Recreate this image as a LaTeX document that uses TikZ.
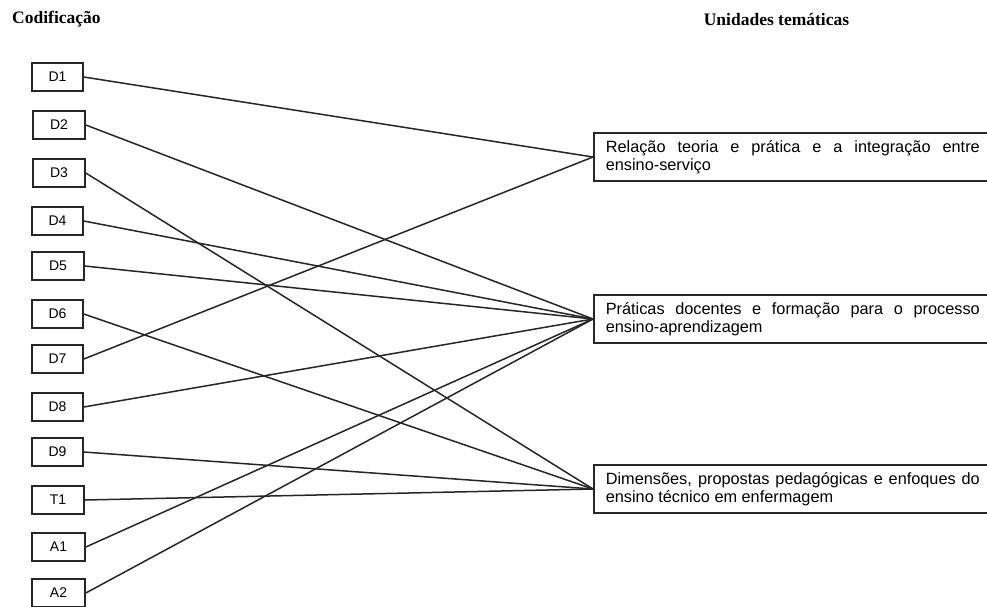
\documentclass[tikz,border=0pt]{standalone}
\usepackage{fontspec}
\setmainfont{Liberation Serif}
\newfontfamily\arialfont{Liberation Sans}
\begin{document}
\begin{tikzpicture}[x=1pt,y=-1pt,
  code/.style={draw=black!85, line width=1.6pt, minimum height=28pt, inner sep=0pt,
    font=\arialfont\fontsize{14}{16}\selectfont},
  theme/.style={draw=black!85, line width=1.6pt, anchor=west, text width=374pt, align=justify,
    inner xsep=12pt, inner ysep=2pt, minimum height=48pt,
    font=\arialfont\fontsize{16.3}{17.6}\selectfont},
  title/.style={font=\bfseries\fontsize{17.5}{20}\selectfont, inner sep=0pt},
  link/.style={draw=black!85, line width=1.5pt}]
\useasboundingbox (0,0) rectangle (987,606);
\clip (0,0) rectangle (987,606);

\node[title, anchor=base west] (t1) at (12,23) {Codificação};
\node[title, anchor=base] (t2) at (776.5,25) {Unidades temáticas};

\node[code, minimum width=51pt] (D1) at (57.5,77) {D1};
\node[code, minimum width=52pt] (D2) at (59,125) {D2};
\node[code, minimum width=52pt] (D3) at (59,173) {D3};
\node[code, minimum width=51pt] (D4) at (57.5,221) {D4};
\node[code, minimum width=52pt] (D5) at (58,266) {D5};
\node[code, minimum width=51pt] (D6) at (57.5,314) {D6};
\node[code, minimum width=51pt] (D7) at (57.5,359) {D7};
\node[code, minimum width=51pt] (D8) at (57.5,407) {D8};
\node[code, minimum width=51pt] (D9) at (57.5,452) {D9};
\node[code, minimum width=52pt] (T1) at (58,500) {T1};
\node[code, minimum width=53pt] (A1) at (58.5,547) {A1};
\node[code, minimum width=53pt] (A2) at (58.5,593) {A2};

\node[theme] (R1) at (593,157) {Relação teoria e prática e a integração entre\linebreak ensino-serviço};
\node[theme] (R2) at (593,319) {Práticas docentes e formação para o processo\linebreak ensino-aprendizagem};
\node[theme] (R3) at (593,489) {Dimensões, propostas pedagógicas e enfoques do\linebreak ensino técnico em enfermagem};

\draw[link] (D1.east) -- (R1.west);
\draw[link] (D7.east) -- (R1.west);
\draw[link] (D2.east) -- (R2.west);
\draw[link] (D4.east) -- (R2.west);
\draw[link] (D5.east) -- (R2.west);
\draw[link] (D8.east) -- (R2.west);
\draw[link] (A1.east) -- (R2.west);
\draw[link] (A2.east) -- (R2.west);
\draw[link] (D3.east) -- (R3.west);
\draw[link] (D6.east) -- (R3.west);
\draw[link] (D9.east) -- (R3.west);
\draw[link] (T1.east) -- (R3.west);
\end{tikzpicture}
\end{document}
